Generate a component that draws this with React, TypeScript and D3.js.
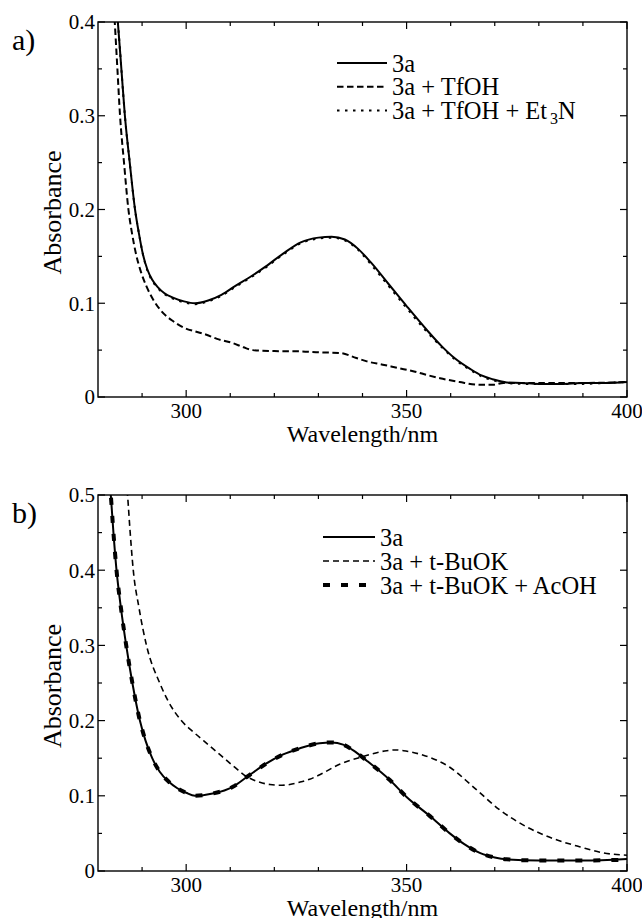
import React from "react";
import * as d3 from "d3";

// ---------- DATA ----------
// Panel a
const aSolidWl = [284.0, 284.5, 285.3, 286.1, 287.2, 288.4, 289.3, 290.2, 291.2, 292.3, 293.6, 295, 297, 299.5, 302, 305, 308, 311, 314.5, 318, 322, 326, 330, 333, 336, 339, 342, 346, 350, 354.5, 358, 361, 364.4, 367, 369.5, 372.7, 376, 380, 385, 390, 395, 400];
const aSolidAbs = [0.425, 0.4, 0.35, 0.3, 0.25, 0.2, 0.174, 0.152, 0.136, 0.125, 0.117, 0.111, 0.106, 0.102, 0.1, 0.103, 0.109, 0.118, 0.128, 0.139, 0.153, 0.165, 0.17, 0.171, 0.168, 0.158, 0.143, 0.12, 0.097, 0.072, 0.054, 0.041, 0.03, 0.023, 0.019, 0.0155, 0.015, 0.014, 0.014, 0.015, 0.015, 0.016];

const aTfohWl = [283.5, 283.8, 284.4, 285.0, 285.9, 286.9, 287.7, 288.7, 289.7, 291, 292.5, 294.3, 297, 299.7, 302, 304.6, 307, 310.6, 313, 315.1, 320, 325.7, 330.3, 334.8, 338.6, 341, 344.6, 348, 351.7, 355, 357.6, 362, 366.6, 369.6, 372, 380, 390, 400];
const aTfohAbs = [0.425, 0.4, 0.35, 0.3, 0.25, 0.2, 0.175, 0.151, 0.134, 0.118, 0.104, 0.092, 0.081, 0.0735, 0.07, 0.0664, 0.062, 0.0575, 0.053, 0.05, 0.049, 0.0487, 0.0476, 0.047, 0.0416, 0.038, 0.0345, 0.031, 0.0273, 0.023, 0.02, 0.016, 0.013, 0.013, 0.015, 0.015, 0.015, 0.016];

const aEt3nWl = [284.0, 284.5, 285.3, 286.1, 287.2, 288.4, 289.3, 290.2, 291.2, 292.3, 293.6, 295, 297, 299.5, 302, 305, 308, 311, 314.5, 318, 322, 326, 330, 333, 336, 339, 342, 346, 350, 354.5, 358, 361, 364.4, 367, 369.5, 372.7, 376, 380, 385, 390, 395, 400];
const aEt3nAbs = [0.425, 0.4, 0.35, 0.3, 0.25, 0.2, 0.174, 0.152, 0.135, 0.124, 0.116, 0.11, 0.105, 0.101, 0.099, 0.102, 0.108, 0.117, 0.127, 0.138, 0.152, 0.164, 0.169, 0.17, 0.167, 0.157, 0.141, 0.118, 0.095, 0.07, 0.053, 0.04, 0.029, 0.022, 0.018, 0.015, 0.014, 0.014, 0.014, 0.014, 0.015, 0.016];

// Panel b
const bSolidWl = [282.6, 282.9, 283.5, 284.2, 285.2, 286.4, 287.8, 289.5, 290.8, 292.3, 294, 296, 298, 300, 302, 306, 310.6, 314, 318.2, 322, 325.7, 330.3, 333, 335.6, 338, 340.9, 346.2, 350, 355.3, 359.8, 363, 366.6, 370, 372.7, 380, 390, 400];
const bSolidAbs = [0.52, 0.5, 0.45, 0.4, 0.35, 0.3, 0.25, 0.2, 0.173, 0.15, 0.132, 0.119, 0.11, 0.104, 0.1, 0.103, 0.112, 0.126, 0.143, 0.155, 0.163, 0.17, 0.171, 0.168, 0.16, 0.147, 0.121, 0.0985, 0.073, 0.05, 0.036, 0.024, 0.018, 0.0155, 0.014, 0.014, 0.016];

const bBuokWl = [286.4, 286.7, 287.3, 288.0, 289.3, 291.0, 294.0, 296, 298.9, 302, 305, 308, 311, 313.6, 316.7, 319, 321.2, 323.5, 325.7, 328, 330.3, 334.8, 340, 345.5, 347.5, 349.3, 353.8, 359.8, 365.1, 371.2, 377.3, 383.3, 389.4, 394.7, 400];
const bBuokAbs = [0.52, 0.5, 0.45, 0.4, 0.35, 0.3, 0.25, 0.225, 0.2, 0.183, 0.168, 0.153, 0.138, 0.126, 0.118, 0.115, 0.114, 0.115, 0.118, 0.122, 0.128, 0.142, 0.152, 0.16, 0.161, 0.16, 0.154, 0.138, 0.112, 0.081, 0.0585, 0.043, 0.032, 0.024, 0.021];

const bAcohWl = [282.6, 282.9, 283.5, 284.2, 285.2, 286.4, 287.8, 289.5, 290.8, 292.3, 294, 296, 298, 300, 302, 306, 310.6, 314, 318.2, 322, 325.7, 330.3, 333, 335.6, 338, 340.9, 346.2, 350, 355.3, 359.8, 363, 366.6, 370, 372.7, 380, 390, 400];
const bAcohAbs = [0.52, 0.5, 0.45, 0.4, 0.35, 0.3, 0.25, 0.2, 0.173, 0.15, 0.132, 0.119, 0.11, 0.104, 0.1, 0.103, 0.112, 0.126, 0.143, 0.155, 0.163, 0.17, 0.171, 0.168, 0.16, 0.147, 0.121, 0.0985, 0.073, 0.05, 0.036, 0.024, 0.018, 0.0155, 0.014, 0.014, 0.015];

const xDomain = [280, 400];
const xMajorTicks = [300, 350, 400];
const aYMax = 0.4;
const bYMax = 0.5;
const aLegendLabels = ["3a", "3a + TfOH", "3a + TfOH + Et"];
const bLegendLabels = ["3a", "3a + t-BuOK", "3a + t-BuOK + AcOH"];
const panelLabels = ["a)", "b)"];
const xLabel = "Wavelength/nm";
const yLabel = "Absorbance";

const FONT = "Liberation Serif, Times New Roman, Times, DejaVu Serif, serif";
const txt = { fontFamily: FONT } as React.CSSProperties;

type Series = { wl: number[]; abs: number[]; width: number; dash: string | null };

const Panel: React.FC<{
  top: number;
  bottom: number;
  yMax: number;
  series: Series[];
  legend: string[];
  legendX: number;
  legendLineX0: number;
  legendLineX1: number;
  legendY0: number;
  legendDy: number;
  subscript: boolean;
  label: string;
  labelBaseline: number;
  id: string;
}> = (p) => {
  const left = 98;
  const right = 627;
  const x = d3.scaleLinear().domain(xDomain).range([left, right]);
  const y = d3.scaleLinear().domain([0, p.yMax]).range([p.bottom, p.top]);
  const line = d3
    .line<[number, number]>()
    .x((d) => x(d[0]))
    .y((d) => y(d[1]))
    .curve(d3.curveMonotoneX);
  const xMinor = d3.range(290, 400, 10).filter((v) => !xMajorTicks.includes(v));
  const yAll = d3.range(0, p.yMax + 1e-9, 0.05).map((v) => +v.toFixed(2));
  const yMajor = yAll.filter((v) => Math.abs(v * 10 - Math.round(v * 10)) < 1e-6);
  const yMinor = yAll.filter((v) => !yMajor.includes(v));
  const MAJ = 7;
  const MIN = 4;
  return (
    <g>
      <defs>
        <clipPath id={p.id}>
          <rect x={left} y={p.top} width={right - left} height={p.bottom - p.top} />
        </clipPath>
      </defs>
      <g clipPath={`url(#${p.id})`}>
        {p.series.map((s, i) => (
          <path
            key={i}
            d={line(s.wl.map((w, j) => [w, s.abs[j]] as [number, number])) || ""}
            fill="none"
            stroke="#000"
            strokeWidth={s.width}
            strokeDasharray={s.dash || undefined}
          />
        ))}
      </g>
      <rect x={left} y={p.top} width={right - left} height={p.bottom - p.top} fill="none" stroke="#000" strokeWidth={1.4} />
      {xMajorTicks.map((t) => (
        <g key={"xm" + t}>
          <line x1={x(t)} x2={x(t)} y1={p.bottom} y2={p.bottom - MAJ} stroke="#000" strokeWidth={1.2} />
          <line x1={x(t)} x2={x(t)} y1={p.top} y2={p.top + MAJ} stroke="#000" strokeWidth={1.2} />
          <text x={x(t)} y={p.bottom + 21} textAnchor="middle" fontSize={21} style={txt}>
            {t}
          </text>
        </g>
      ))}
      {xMinor.map((t) => (
        <g key={"xn" + t}>
          <line x1={x(t)} x2={x(t)} y1={p.bottom} y2={p.bottom - MIN} stroke="#000" strokeWidth={1.2} />
          <line x1={x(t)} x2={x(t)} y1={p.top} y2={p.top + MIN} stroke="#000" strokeWidth={1.2} />
        </g>
      ))}
      {yMajor.map((t) => (
        <g key={"ym" + t}>
          <line x1={left} x2={left + MAJ} y1={y(t)} y2={y(t)} stroke="#000" strokeWidth={1.2} />
          <line x1={right} x2={right - MAJ} y1={y(t)} y2={y(t)} stroke="#000" strokeWidth={1.2} />
          <text x={left - 3} y={y(t)} dy="0.35em" textAnchor="end" fontSize={21} style={txt}>
            {t === 0 ? "0" : t.toFixed(1)}
          </text>
        </g>
      ))}
      {yMinor.map((t) => (
        <g key={"yn" + t}>
          <line x1={left} x2={left + MIN} y1={y(t)} y2={y(t)} stroke="#000" strokeWidth={1.2} />
          <line x1={right} x2={right - MIN} y1={y(t)} y2={y(t)} stroke="#000" strokeWidth={1.2} />
        </g>
      ))}
      <text x={(left + right) / 2} y={p.bottom + 45} textAnchor="middle" fontSize={24} style={txt}>
        {xLabel}
      </text>
      <text
        transform={`translate(61, ${(p.top + p.bottom) / 2 + 3}) rotate(-90)`}
        textAnchor="middle"
        fontSize={26}
        style={txt}
      >
        {yLabel}
      </text>
      <text x={12} y={p.labelBaseline} fontSize={30} style={txt}>
        {p.label}
      </text>
      {p.legend.map((lab, i) => {
        const ly = p.legendY0 + i * p.legendDy;
        const s = p.series[i];
        return (
          <g key={"lg" + i}>
            <line
              x1={p.legendLineX0}
              x2={p.legendLineX1}
              y1={ly}
              y2={ly}
              stroke="#000"
              strokeWidth={s.width}
              strokeDasharray={s.dash || undefined}
            />
            <text x={p.legendX} y={ly} dy="0.35em" fontSize={24.5} style={txt}>
              {lab}
              {p.subscript && i === 2 ? (
                <>
                  <tspan dx={3} dy={5} fontSize={16}>3</tspan>
                  <tspan dy={-5}>N</tspan>
                </>
              ) : null}
            </text>
          </g>
        );
      })}
    </g>
  );
};

export default function App() {
  const aSeries: Series[] = [
    { wl: aSolidWl, abs: aSolidAbs, width: 2, dash: null },
    { wl: aTfohWl, abs: aTfohAbs, width: 2, dash: "6.5,3.5" },
    { wl: aEt3nWl, abs: aEt3nAbs, width: 2, dash: "2.5,5.5" },
  ];
  const bSeries: Series[] = [
    { wl: bSolidWl, abs: bSolidAbs, width: 2, dash: null },
    { wl: bBuokWl, abs: bBuokAbs, width: 1.6, dash: "6,4" },
    { wl: bAcohWl, abs: bAcohAbs, width: 4, dash: "7,11" },
  ];
  return (
    <svg
      width={642}
      height={918}
      style={{ position: "absolute", left: 0, top: 0, background: "#fff" }}
    >
      <rect width={642} height={918} fill="#fff" />
      <Panel
        id="clipA"
        top={22}
        bottom={397}
        yMax={aYMax}
        series={aSeries}
        legend={aLegendLabels}
        legendX={392}
        legendLineX0={337}
        legendLineX1={387}
        legendY0={63}
        legendDy={23.7}
        subscript={true}
        label={panelLabels[0]}
        labelBaseline={50}
      />
      <Panel
        id="clipB"
        top={495}
        bottom={871}
        yMax={bYMax}
        series={bSeries}
        legend={bLegendLabels}
        legendX={380}
        legendLineX0={323}
        legendLineX1={375}
        legendY0={537}
        legendDy={24}
        subscript={false}
        label={panelLabels[1]}
        labelBaseline={523}
      />
    </svg>
  );
}
